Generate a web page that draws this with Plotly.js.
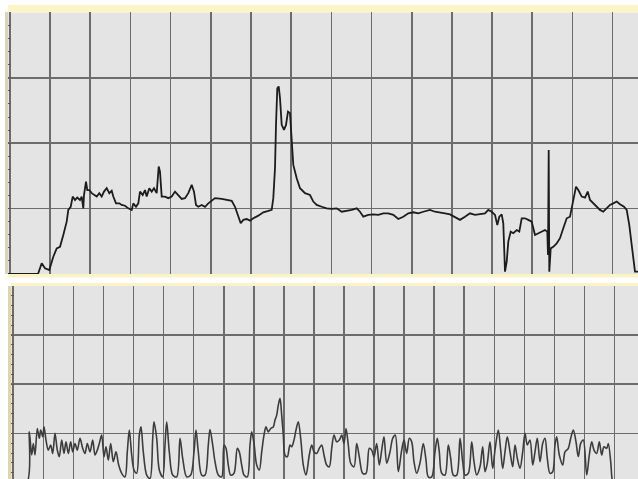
<!DOCTYPE html>
<html>
<head>
<meta charset="utf-8">
<script src="https://cdn.plot.ly/plotly-3.0.1.min.js"></script>
<style>html,body{margin:0;padding:0;background:#fff;}#chart{width:638px;height:479px;}</style>
</head>
<body>
<div id="chart"></div>
<script>
// Upper trace: sample index and level (0-100 scale)
const topX = [8,38,41.7,45,49.3,53.3,56.7,60,63.3,66.7,68.3,70.7,72.7,75,77.3,80,81.7,83.3,84,86,87.3,89.3,91.7,94,96.7,99.3,101.7,104,106.7,109.3,111.7,113.3,116,119.3,121.7,125,128.3,131.7,133.3,136,138.3,140,142.7,145,146.7,149.3,151.7,154,156.7,158.7,160,161.7,165,168.3,171.7,175,178.3,181.7,185,188.3,191.7,194,196,198.3,201.7,205,208.3,211.7,215,221.7,226.7,231.7,235,238.3,240.7,243.3,246.7,250,253.3,258.3,263.3,268.3,271.7,273.3,275,276,277.3,278.7,280,281.7,284,286,288,290,291.7,293.3,296.7,300,305,310,313.3,316.7,321.7,326.7,331.7,336.7,341.7,346.7,351.7,356.7,360,363.3,368.3,373.3,378.3,383.3,388.3,393.3,398.3,403.3,408.3,413.3,418.3,423.3,430,435,440,445,450,455,460,465,470,475,480,485,488.3,491.7,495,497.3,499.3,501.7,503.3,505,506.7,508.3,510.7,513.3,516.7,519.3,521.7,525,528.3,531.7,535,538.3,541.7,545,547.3,548,548.7,549.3,550.7,553.3,556.7,560,563.3,566.7,570,572.7,574,576,578.3,581.7,585,587.7,590,593.3,596.7,600,603.3,606.7,610,613.3,616.7,620,624,626.7,629.3,631.7,633.3,635,638];
const topY = [0,0,4.1,2.2,1.5,6.6,9.8,10.4,14.9,20.0,24.5,25.7,29.6,28.3,29.2,28.3,29.6,25.1,30.2,35.3,32.1,32.1,30.9,30.2,29.6,30.9,29.6,31.5,32.8,30.9,31.8,29.6,27.0,27.0,26.4,26.1,25.1,24.5,27.0,25.7,27.0,31.5,30.2,32.1,29.6,32.8,31.5,32.8,30.9,41.1,39.1,29.6,29.6,29.0,29.6,31.5,30.2,28.7,29.0,30.9,34.1,31.5,26.4,25.7,26.4,25.7,27.0,27.9,29.0,28.7,28.3,28.0,25.7,21.9,19.4,20.7,21.0,20.4,21.3,22.3,23.6,24.1,24.5,29.0,40.4,57.0,71.0,71.7,67.2,57.0,55.1,57.0,62.1,61.5,50.6,41.7,36.6,32.8,30.9,30.2,27.7,26.4,25.7,25.1,24.9,25.1,23.8,24.1,24.5,25.1,23.8,21.9,22.6,22.8,22.6,23.2,23.2,22.6,21.0,21.9,23.2,23.6,23.2,23.8,24.5,23.8,23.6,23.2,22.8,21.9,20.7,21.9,23.2,22.6,22.8,23.2,24.5,23.8,22.6,18.7,21.9,22.8,19.4,0.9,4.7,12.4,16.2,15.6,16.8,16.2,21.3,21.3,20.7,20.0,14.9,15.6,16.2,16.8,16.2,7.3,47.4,0.9,9.8,10.4,11.7,13.7,17.5,21.3,21.9,27.7,30.2,33.4,32.1,29.6,29.2,31.5,28.3,27.0,25.7,24.5,23.8,25.1,26.4,27.0,27.7,26.7,25.7,24.5,18.7,11.1,6.6,0.9,0.9];

// Lower trace: sample index and level (0-100 scale)
const botX = [11,26.7,29.3,31.7,33.3,35,37.3,39.3,40.7,42.7,44,46,48.3,50.7,52.7,55,57.3,59.3,61.7,64,66,68.3,70.7,72.7,75,77.3,80,82.7,85,87.3,90,92.7,95,97.3,99.3,101.7,104,106,108.3,110.7,113.3,116,118.7,121.7,125,127.3,129.3,131.7,134,136.7,139.3,141,143.3,146.7,150,152.7,154,156.7,159.3,162.7,165,166.7,169.3,172.7,176.7,180,182.7,186.7,190.7,194,196,198.3,201.7,205,208.3,210,212.7,215,218.3,221.7,224,226,228.3,230.7,234,237.3,239.3,241.7,244,247.3,250,251.7,254,256.7,259.3,261.7,264,266,268.3,270.7,273.3,275,276.7,278.3,280,281.7,283.3,285,287.3,290,291.7,294,296,298.3,300.7,303.3,306,309.3,311.7,314,316.7,319.3,321.7,324,326.7,329.3,331.7,334,336.7,339.3,341.7,344,346,348.3,350.7,354,356.7,359.3,362.7,366,369.3,371.7,374,376.7,379.3,381.7,384,386.7,390,392.7,395.3,398.3,401.7,404,406.7,409.3,411.7,414,416.7,420,423.3,426,428.3,431.7,435,437.3,439.3,441.7,445,448.3,450.7,453.3,456.7,460,462.7,465,468.3,471.7,474,476.7,480,482.7,485,487.3,490,492.7,495,498.3,500.7,502.7,505,507.3,510,512.7,515,517.3,520,522.7,525,527.3,530,532.7,535,537.3,540,542.7,545,547.3,550,552.7,555,556.7,559.3,562.7,565,568.3,570.7,573.3,576,578.3,580.7,583.3,586.7,589.3,591.7,594,596.7,599.3,601.7,604,606.7,608.3,610.7,612,613,638];
const botY = [0,0,25.8,14.0,19.9,14.0,27.5,22.5,26.7,23.3,28.3,21.6,16.5,19.1,14.8,25.0,16.5,13.1,21.6,14.8,20.7,14.8,20.7,15.6,19.9,16.5,22.5,17.4,14.8,19.9,15.6,21.6,14.0,16.5,19.9,24.1,13.1,18.2,11.4,19.9,10.6,15.6,8.9,4.7,2.9,15.6,26.7,14.0,6.4,4.7,24.1,28.3,15.6,3.8,2.1,22.5,30.9,22.5,6.4,2.9,19.1,30.9,15.6,3.8,2.9,22.5,12.3,2.9,3.8,15.6,26.7,15.6,3.8,3.8,19.1,27.0,19.1,10.6,3.8,2.9,19.1,17.4,8.9,3.8,4.7,17.4,15.6,8.9,3.8,2.9,19.1,25.8,19.9,8.9,6.4,15.6,24.1,28.3,25.8,27.5,28.3,31.8,34.3,39.4,42.8,34.3,24.1,14.0,13.1,19.1,18.2,21.6,26.7,30.9,22.5,8.9,3.8,14.0,19.1,15.6,14.8,17.4,19.1,14.0,8.9,8.0,17.4,24.1,20.7,21.6,24.1,19.9,27.5,19.1,9.8,8.0,19.9,13.1,4.7,4.7,17.4,16.5,13.1,19.9,8.9,16.5,23.3,9.8,15.6,22.5,24.1,5.5,16.5,21.6,14.8,22.5,20.7,10.6,4.7,10.0,19.9,11.4,2.9,2.9,15.6,22.5,15.6,4.7,3.8,19.1,12.3,3.8,3.8,22.5,10.6,3.8,4.7,20.7,10.6,3.8,8.0,18.2,5.5,9.8,20.7,7.2,16.5,26.7,16.5,7.2,15.6,23.3,15.6,8.0,19.1,12.3,7.2,15.6,25.0,19.1,21.6,8.9,15.6,22.5,10.6,19.9,22.5,12.3,4.7,5.5,19.1,23.3,14.0,8.9,15.6,17.4,22.5,26.7,20.7,13.1,19.9,21.6,3.8,14.0,20.7,16.5,14.8,20.7,14.0,18.2,17.4,19.9,10.6,2.1,0,0];

const W = 638, H = 479;
const gridCol = '#6c6c6c';
const tickCol = '#5a5a5a';

const traces = [
  {x: topX, y: topY, xaxis: 'x', yaxis: 'y', type: 'scatter', mode: 'lines',
   line: {color: '#1c1c1c', width: 1.8}, hoverinfo: 'skip'},
  {x: botX, y: botY, xaxis: 'x2', yaxis: 'y2', type: 'scatter', mode: 'lines',
   line: {color: '#3c3c3c', width: 1.6, shape: 'spline', smoothing: 0.9}, hoverinfo: 'skip'}
];

function yax(domain, range) {
  return {
    domain: domain, range: range, tick0: 0, dtick: 25,
    showgrid: true, gridcolor: gridCol, gridwidth: 1.6,
    zeroline: false, showticklabels: false,
    ticks: 'inside', ticklen: 3, tickcolor: tickCol, tickwidth: 1,
    minor: {dtick: 5, ticks: 'inside', ticklen: 3, tickcolor: tickCol, tickwidth: 1, showgrid: false},
    showline: true, linecolor: '#dcd6b0', linewidth: 3, fixedrange: true
  };
}
function xax(domain, range, t0, dt, anchor) {
  return {
    domain: domain, range: range, tick0: t0, dtick: dt, anchor: anchor,
    showgrid: true, gridcolor: gridCol, gridwidth: 1.6,
    zeroline: false, showticklabels: false, ticks: '', showline: false, fixedrange: true
  };
}

const layout = {
  width: W, height: H,
  margin: {l: 0, r: 0, t: 0, b: 0, pad: 0},
  paper_bgcolor: '#ffffff',
  plot_bgcolor: '#e4e4e4',
  showlegend: false,
  xaxis: xax([8 / W, 1], [8, 638], 50, 40.19, 'y'),
  yaxis: Object.assign(yax([1 - 274 / H, 1 - 12.4 / H], [0, 100]), {anchor: 'x'}),
  xaxis2: xax([11 / W, 1], [11, 638], 43.3, 30.07, 'y2'),
  yaxis2: Object.assign(yax([0, 1 - 286 / H], [1.8, 100]), {anchor: 'x2'}),
  shapes: [
    {type: 'rect', xref: 'paper', yref: 'paper', x0: 8 / W, x1: 1, y0: 1 - 12.4 / H, y1: 1 - 5 / H,
     fillcolor: '#fbf4c6', line: {width: 0}, layer: 'below'},
    {type: 'rect', xref: 'paper', yref: 'paper', x0: 8 / W, x1: 1, y0: 1 - 277.5 / H, y1: 1 - 274 / H,
     fillcolor: '#fbf4c6', line: {width: 0}, layer: 'below'},
    {type: 'rect', xref: 'paper', yref: 'paper', x0: 11 / W, x1: 1, y0: 1 - 286 / H, y1: 1 - 283 / H,
     fillcolor: '#fbf4c6', line: {width: 0}, layer: 'below'}
  ]
};

Plotly.newPlot('chart', traces, layout, {staticPlot: true, displayModeBar: false});
</script>
</body>
</html>
